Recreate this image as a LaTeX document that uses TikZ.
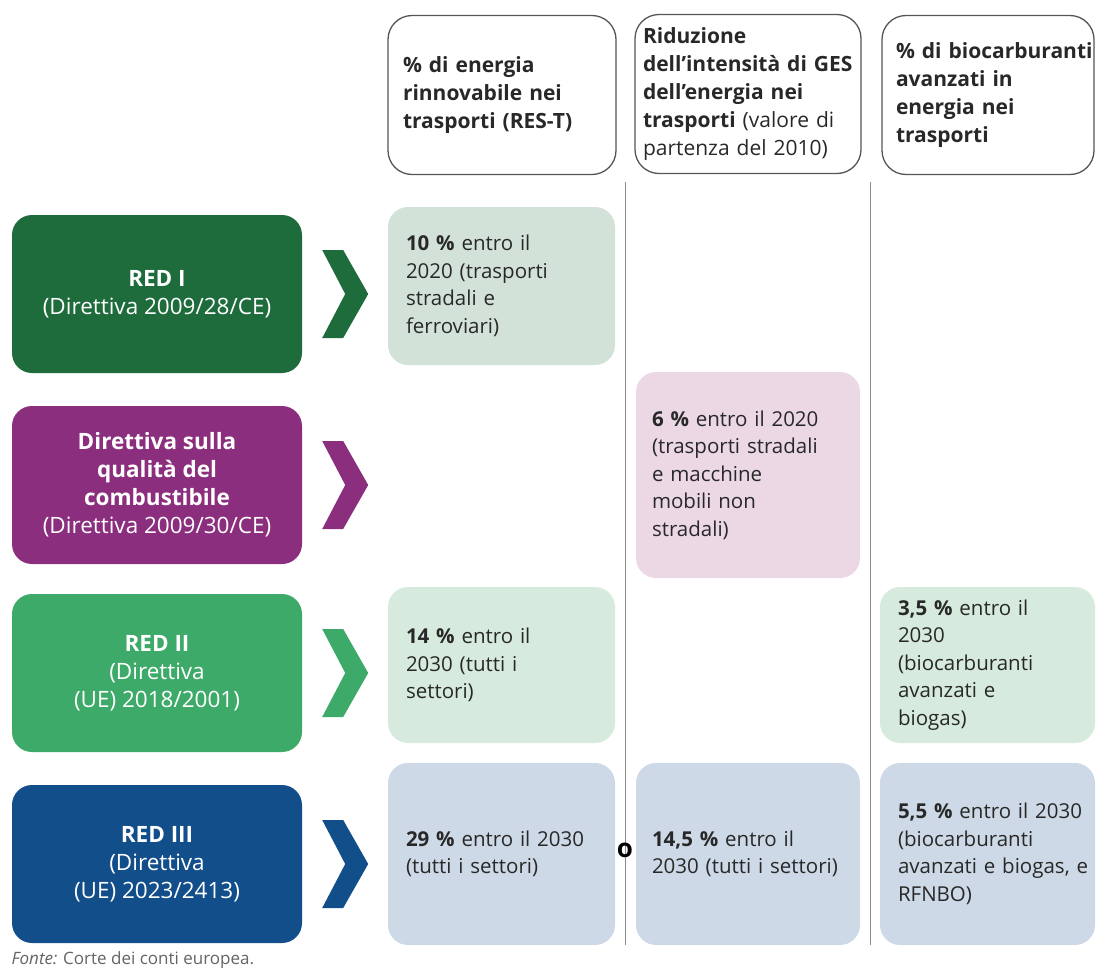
\documentclass[tikz,border=0pt]{standalone}
\usepackage{fontspec}
\setmainfont{Open Sans}
\usetikzlibrary{positioning}
\definecolor{redone}{RGB}{30,107,60}
\definecolor{fqdpurple}{RGB}{140,46,126}
\definecolor{redtwo}{RGB}{61,170,105}
\definecolor{redthree}{RGB}{17,78,138}
\definecolor{rowone}{RGB}{211,226,216}
\definecolor{rowtwo}{RGB}{236,216,229}
\definecolor{rowthree}{RGB}{214,235,221}
\definecolor{rowfour}{RGB}{205,217,230}
\definecolor{headgray}{RGB}{85,85,85}
\definecolor{sepgray}{RGB}{140,140,140}
\definecolor{fontegray}{RGB}{100,100,100}
\definecolor{textgray}{RGB}{40,40,40}

\begin{document}
\begin{tikzpicture}[x=1pt,y=-1pt,
  dirbox/.style={rounded corners=20pt, text=white, align=center,
    minimum width=290pt, minimum height=158pt,
    font=\fontsize{22.5}{28}\selectfont},
  head/.style={draw=headgray, line width=1.3pt, rounded corners=24pt,
    minimum height=159pt, align=left, inner xsep=15pt, text=textgray,
    font=\fontsize{21}{28}\selectfont},
  cell/.style={rounded corners=20pt, align=left, inner xsep=18pt, text=textgray,
    font=\fontsize{20.5}{27.5}\selectfont},
  sep/.style={draw=sepgray, line width=1pt},
  chev/.pic={\fill (-23,-44) -- (-2,-44) -- (23,0) -- (-2,44) -- (-23,44) -- (0,0) -- cycle;}
]
\useasboundingbox (0,0) rectangle (1096,972);

% column separators
\coordinate (sepa top) at (625,182);
\coordinate (sepa bot) at (625,945);
\coordinate (sepb top) at (870,182);
\coordinate (sepb bot) at (870,945);
\draw[sep] (sepa top) -- (sepa bot);
\draw[sep] (sepb top) -- (sepb bot);

% headers
\node[head, text width=198pt] (hres) at (502,95)
  {\textbf{\% di energia}\\\textbf{rinnovabile nei}\\\textbf{trasporti (RES-T)}};
\node[head, text width=210pt, inner xsep=8pt] (hges) at (748,94)
  {\textbf{Riduzione}\\\mbox{\textbf{dell’intensità di GES}}\\\textbf{dell’energia nei}\\\textbf{trasporti} (valore di\\partenza del 2010)};
\node[head, text width=184pt, inner xsep=14pt] (hbio) at (988,95)
  {\mbox{\textbf{\% di biocarburanti}}\\\textbf{avanzati in}\\\textbf{energia nei}\\\textbf{trasporti}};

% directives
\node[dirbox, fill=redone] (red1) at (157,294)
  {\textbf{RED I}\\(Direttiva 2009/28/CE)};
\node[dirbox, fill=fqdpurple] (fqd) at (157,485)
  {\textbf{Direttiva sulla}\\\textbf{qualità del}\\\textbf{combustibile}\\(Direttiva 2009/30/CE)};
\node[dirbox, fill=redtwo] (red2) at (157,673)
  {\textbf{RED II}\\(Direttiva\\(UE) 2018/2001)};
\node[dirbox, fill=redthree] (red3) at (157,864)
  {\textbf{RED III}\\(Direttiva\\(UE) 2023/2413)};

\pic[redone] at ([xshift=43pt]red1.east) {chev};
\pic[fqdpurple] at ([xshift=43pt]fqd.east) {chev};
\pic[redtwo] at ([xshift=43pt]red2.east) {chev};
\pic[redthree] at ([xshift=43pt]red3.east) {chev};

% targets
\node[cell, fill=rowone, text width=191pt, minimum height=158pt] (c10) at (501.5,286)
  {\textbf{10 \%} entro il\\2020 (trasporti\\stradali e\\ferroviari)};
\node[cell, fill=rowtwo, text width=192pt, inner xsep=16pt, minimum height=206pt] (c6) at (748,475)
  {\textbf{6 \%} entro il 2020\\(trasporti stradali\\e macchine\\mobili non\\stradali)};
\node[cell, fill=rowthree, text width=191pt, minimum height=156pt] (c14) at (501.5,665)
  {\textbf{14 \%} entro il\\2030 (tutti i\\settori)};
\node[cell, fill=rowthree, text width=179pt, minimum height=156pt] (c35) at (987.5,665)
  {\textbf{3,5 \%} entro il\\2030\\(biocarburanti\\avanzati e\\biogas)};
\node[cell, fill=rowfour, text width=191pt, minimum height=182pt] (c29) at (501.5,854)
  {\textbf{29 \%} entro il 2030\\(tutti i settori)};
\node[cell, fill=rowfour, text width=192pt, inner xsep=16pt, minimum height=182pt] (c145) at (748,854)
  {\textbf{14,5 \%} entro il\\\mbox{2030 (tutti i settori)}};
\node[cell, fill=rowfour, text width=179pt, minimum height=182pt] (c55) at (987.5,854)
  {\mbox{\textbf{5,5 \%} entro il 2030}\\(biocarburanti\\\mbox{avanzati e biogas, e}\\RFNBO)};

\node[font=\bfseries\fontsize{26}{28}\selectfont, text=black, inner sep=0pt] (oppure) at (625,850) {o};

\node[anchor=west, text=fontegray, font=\fontsize{17}{20}\selectfont] (fonte) at (8,960)
  {\textit{Fonte:} Corte dei conti europea.};
\end{tikzpicture}
\end{document}
